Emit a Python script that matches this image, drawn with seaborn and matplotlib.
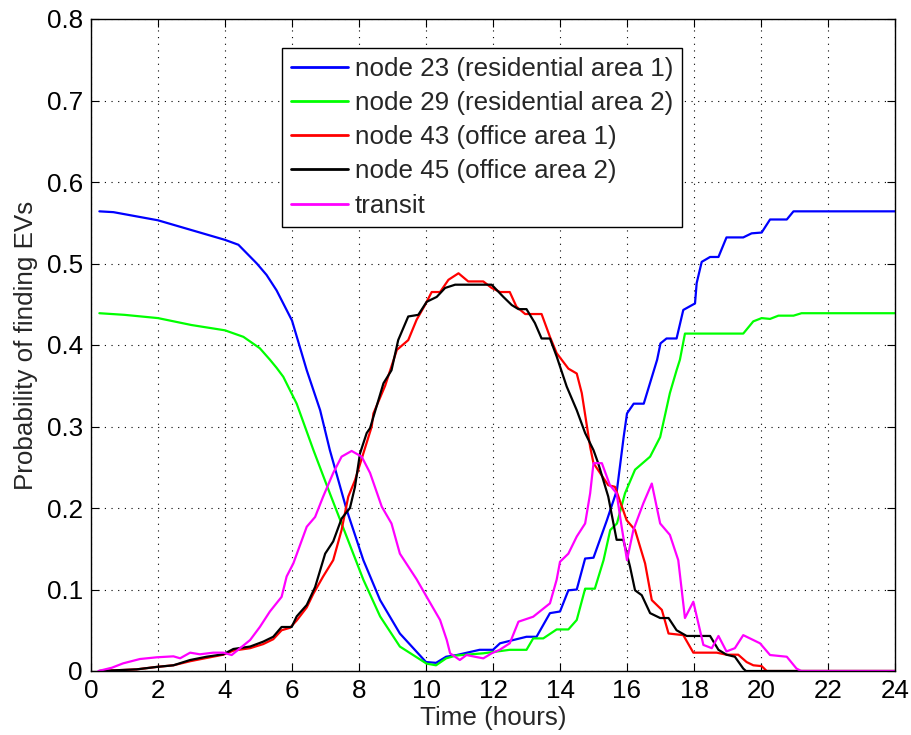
import numpy as np
import pandas as pd
import matplotlib
matplotlib.use("Agg")
import matplotlib.pyplot as plt
import seaborn as sns

# ---------------- data ----------------
labels = ["node 23 (residential area 1)", "node 29 (residential area 2)",
          "node 43 (office area 1)", "node 45 (office area 2)", "transit"]
colors = ["#0000FF", "#00FF00", "#FF0000", "#000000", "#FF00FF"]

t_n23 = [0.25, 0.67, 2, 3, 4, 4.4, 4.95, 5.24, 5.54, 6.0, 6.44, 6.84, 7.13, 7.63, 8.13, 8.63, 9.22, 10.0,
         10.3, 10.6, 10.92, 11.6, 12.0, 12.21, 13.0, 13.3, 13.7, 14.0, 14.25, 14.5, 14.75, 15.0, 15.4,
         15.7, 15.9, 16.0, 16.2, 16.5, 16.9, 17.0, 17.18, 17.48, 17.68, 18.03, 18.08, 18.23, 18.48, 18.73,
         18.97, 19.47, 19.72, 20.02, 20.27, 20.77, 20.97, 24]
p_n23 = [0.564, 0.563, 0.553, 0.541, 0.529, 0.523, 0.500, 0.486, 0.467, 0.430, 0.369, 0.320, 0.271, 0.198,
         0.136, 0.087, 0.046, 0.011, 0.010, 0.0175, 0.0196, 0.026, 0.026, 0.034, 0.042, 0.042, 0.071, 0.073,
         0.099, 0.100, 0.138, 0.139, 0.185, 0.222, 0.287, 0.316, 0.328, 0.328, 0.382, 0.402, 0.408, 0.408,
         0.443, 0.451, 0.476, 0.502, 0.508, 0.508, 0.532, 0.532, 0.537, 0.538, 0.554, 0.554, 0.564, 0.564]

t_n29 = [0.25, 1, 2, 3, 4, 4.55, 5.04, 5.34, 5.54, 5.74, 6.14, 6.64, 7.13, 7.63, 8.13, 8.63, 9.22, 10.02,
         10.3, 10.6, 10.9, 11.71, 12.5, 13.0, 13.2, 13.5, 13.9, 14.25, 14.5, 14.75, 15.04, 15.3, 15.5,
         15.7, 15.94, 16.24, 16.69, 16.99, 17.28, 17.48, 17.58, 17.73, 19.47, 19.77, 20.02, 20.27, 20.52,
         20.97, 21.21, 24]
p_n29 = [0.439, 0.437, 0.433, 0.4245, 0.418, 0.410, 0.396, 0.382, 0.372, 0.361, 0.328, 0.271, 0.218, 0.165,
         0.112, 0.067, 0.030, 0.009, 0.007, 0.0155, 0.019, 0.0217, 0.026, 0.026, 0.040, 0.040, 0.051, 0.051,
         0.0626, 0.101, 0.101, 0.136, 0.173, 0.181, 0.218, 0.247, 0.263, 0.287, 0.341, 0.369, 0.382, 0.414,
         0.414, 0.429, 0.433, 0.432, 0.436, 0.436, 0.439, 0.439]

t_n43 = [0.25, 1.36, 1.96, 2.46, 2.96, 3.45, 3.95, 4.25, 4.75, 5.14, 5.44, 5.69, 5.94, 6.14, 6.44, 6.64,
         6.93, 7.23, 7.48, 7.68, 7.88, 8.13, 8.38, 8.43, 8.78, 9.13, 9.47, 9.72, 9.97, 10.17, 10.42, 10.67,
         10.97, 11.26, 11.71, 11.96, 12.21, 12.5, 12.7, 12.96, 13.45, 13.7, 13.9, 14.25, 14.5, 14.65, 14.9,
         15.0, 15.44, 15.64, 15.99, 16.24, 16.54, 16.74, 17.04, 17.24, 17.68, 17.98, 18.68, 18.97, 19.32,
         19.57, 19.77, 20.02, 20.17, 24]
p_n43 = [0.0, 0.002, 0.005, 0.007, 0.012, 0.016, 0.020, 0.025, 0.028, 0.033, 0.039, 0.050, 0.053, 0.062,
         0.078, 0.095, 0.116, 0.136, 0.173, 0.214, 0.234, 0.267, 0.300, 0.316, 0.350, 0.394, 0.406, 0.431,
         0.449, 0.465, 0.465, 0.480, 0.488, 0.478, 0.478, 0.470, 0.465, 0.465, 0.447, 0.438, 0.438, 0.410,
         0.390, 0.371, 0.365, 0.341, 0.275, 0.255, 0.228, 0.226, 0.185, 0.173, 0.132, 0.087, 0.075, 0.046,
         0.044, 0.0225, 0.0225, 0.020, 0.020, 0.011, 0.007, 0.006, 0.0, 0.0]

t_n45 = [0.25, 1.36, 1.96, 2.46, 2.96, 3.45, 3.95, 4.25, 4.75, 5.14, 5.44, 5.69, 5.99, 6.14, 6.44, 6.69,
         6.99, 7.23, 7.48, 7.73, 7.88, 8.03, 8.23, 8.33, 8.73, 8.97, 9.17, 9.47, 9.77, 10.02, 10.32, 10.57,
         10.87, 11.96, 12.31, 12.56, 12.76, 13.0, 13.25, 13.45, 13.7, 13.9, 14.2, 14.5, 14.75, 15.0, 15.14,
         15.44, 15.69, 15.89, 16.09, 16.24, 16.44, 16.69, 16.99, 17.24, 17.48, 17.78, 18.48, 18.73, 18.97,
         19.22, 19.47, 19.55, 24]
p_n45 = [0.0, 0.002, 0.005, 0.007, 0.0135, 0.0175, 0.0205, 0.027, 0.030, 0.036, 0.042, 0.054, 0.054, 0.067,
         0.081, 0.103, 0.144, 0.159, 0.187, 0.200, 0.226, 0.267, 0.292, 0.298, 0.353, 0.369, 0.406, 0.435,
         0.437, 0.453, 0.459, 0.470, 0.474, 0.474, 0.459, 0.449, 0.444, 0.444, 0.427, 0.408, 0.408, 0.386,
         0.349, 0.320, 0.292, 0.271, 0.255, 0.214, 0.161, 0.161, 0.128, 0.099, 0.093, 0.071, 0.065, 0.065,
         0.050, 0.043, 0.043, 0.026, 0.020, 0.0175, 0.003, 0.0, 0.0]

t_transit = [0.22, 0.62, 0.96, 1.46, 1.96, 2.46, 2.66, 2.96, 3.25, 3.65, 3.95, 4.2, 4.45, 4.75, 5.04, 5.34,
             5.69, 5.84, 6.04, 6.44, 6.69, 6.93, 7.23, 7.48, 7.78, 8.08, 8.33, 8.68, 8.97, 9.22, 9.72, 10.02,
             10.42, 10.62, 10.72, 11.01, 11.21, 11.46, 11.71, 11.96, 12.2, 12.5, 12.76, 13.2, 13.7, 13.9,
             14.0, 14.25, 14.5, 14.75, 14.9, 15.0, 15.25, 15.49, 15.69, 15.84, 16.0, 16.19, 16.49, 16.74,
             16.99, 17.28, 17.53, 17.73, 17.98, 18.28, 18.53, 18.73, 18.97, 19.22, 19.47, 19.97, 20.27,
             20.77, 21.06, 21.2, 24]
p_transit = [0.0, 0.004, 0.0094, 0.0147, 0.0168, 0.018, 0.0156, 0.0225, 0.0205, 0.0225, 0.0225, 0.0196,
             0.028, 0.038, 0.054, 0.073, 0.091, 0.116, 0.132, 0.177, 0.189, 0.214, 0.243, 0.263, 0.270,
             0.263, 0.243, 0.2016, 0.181, 0.144, 0.1125, 0.091, 0.0626, 0.038, 0.0217, 0.0135, 0.0196,
             0.0175, 0.0155, 0.0217, 0.026, 0.034, 0.0605, 0.0666, 0.083, 0.112, 0.134, 0.144, 0.165,
             0.181, 0.218, 0.255, 0.255, 0.228, 0.218, 0.177, 0.136, 0.173, 0.206, 0.230, 0.181, 0.167,
             0.136, 0.065, 0.085, 0.032, 0.028, 0.043, 0.024, 0.028, 0.044, 0.034, 0.0196, 0.0175, 0.003,
             0.0, 0.0]

x_ticks = [0, 2, 4, 6, 8, 10, 12, 14, 16, 18, 20, 22, 24]
y_ticks = [0, 0.1, 0.2, 0.3, 0.4, 0.5, 0.6, 0.7, 0.8]
y_tick_labels = ["0", "0.1", "0.2", "0.3", "0.4", "0.5", "0.6", "0.7", "0.8"]

# ---------------- build long table ----------------
series = [(labels[0], t_n23, p_n23), (labels[1], t_n29, p_n29), (labels[2], t_n43, p_n43),
          (labels[3], t_n45, p_n45), (labels[4], t_transit, p_transit)]
df = pd.concat([pd.DataFrame({"t": t, "p": p, "series": name}) for name, t, p in series],
               ignore_index=True)

# ---------------- style ----------------
sns.set_style("ticks")
plt.rcParams["font.family"] = ["Liberation Sans", "DejaVu Sans"]
FS = 18.7

fig = plt.figure(figsize=(9.11, 7.35), dpi=100)
ax = fig.add_axes([91 / 911, 1 - 671 / 735, (895 - 91) / 911, (671 - 19) / 735])

sns.lineplot(data=df, x="t", y="p", hue="series", hue_order=labels,
             palette=dict(zip(labels, colors)), estimator=None, sort=False,
             linewidth=1.6, ax=ax, legend=True)

ax.set_xlim(0, 24)
ax.set_ylim(0, 0.8)
ax.set_xticks(x_ticks)
ax.set_xticklabels([str(v) for v in x_ticks])
ax.set_yticks(y_ticks)
ax.set_yticklabels(y_tick_labels)
ax.tick_params(axis="both", which="both", direction="in", length=6, width=0.8,
               top=True, right=True, labelsize=FS, colors="black", pad=6)
ax.grid(True, linestyle=(0, (1, 5)), color="black", linewidth=0.8)
for s in ax.spines.values():
    s.set_visible(True)
    s.set_color("black")
    s.set_linewidth(1.0)

ax.set_xlabel("Time (hours)", fontsize=FS, labelpad=2)
ax.set_ylabel("Probability of finding EVs", fontsize=FS, labelpad=6)

handles, labs = ax.get_legend_handles_labels()
leg = ax.legend(handles, labs, loc="upper left",
                bbox_to_anchor=((282 - 91) / 804, (671 - 48) / 652),
                borderaxespad=0, fontsize=FS, frameon=True, fancybox=False,
                edgecolor="black", framealpha=1, handlelength=2.2,
                handletextpad=0.25, borderpad=0.35, labelspacing=0.39)
leg.get_frame().set_linewidth(1.0)
for h in leg.get_lines():
    h.set_linewidth(2.0)

fig.savefig("out.png", dpi=100)
